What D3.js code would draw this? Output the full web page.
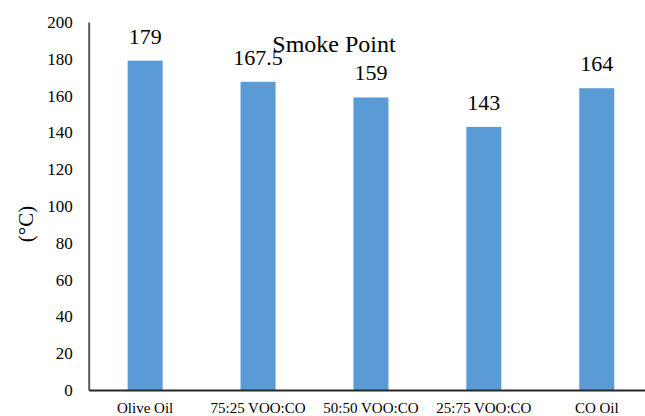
<!DOCTYPE html>
<html>
<head>
<meta charset="utf-8">
<script src="https://cdn.jsdelivr.net/npm/d3@7"></script>
<style>
  html, body { margin: 0; padding: 0; background: #fff; }
  svg text { font-family: "Liberation Serif", "DejaVu Serif", serif; }
</style>
</head>
<body>
<svg id="chart" width="645" height="416"></svg>
<script>
// Smoke point of olive oil, corn oil and their blends
const categories = ["Olive Oil", "75:25 VOO:CO", "50:50 VOO:CO", "25:75 VOO:CO", "CO Oil"];
const values = [179, 167.5, 159, 143, 164];
const yTicks = [0, 20, 40, 60, 80, 100, 120, 140, 160, 180, 200];

const SERIF = "'Liberation Serif', serif";
const svg = d3.select("#chart");
const x0 = 88.7, plotTop = 22, plotBottom = 390;

const y = d3.scaleLinear().domain([0, 200]).range([plotBottom, plotTop]);
const x = d3.scaleBand().domain(categories).range([x0, x0 + 5 * 112.9]).padding(0);
const barW = x.bandwidth() * 0.31;

// bars
svg.append("g").selectAll("rect").data(values).join("rect")
  .attr("x", (d, i) => x(categories[i]) + x.bandwidth() / 2 - barW / 2)
  .attr("y", d => y(d))
  .attr("width", barW)
  .attr("height", d => y(0) - y(d))
  .attr("fill", "#5B9BD5");

// value labels
svg.append("g").selectAll("text").data(values).join("text")
  .attr("x", (d, i) => x(categories[i]) + x.bandwidth() / 2)
  .attr("y", d => y(d) - 17)
  .attr("text-anchor", "middle")
  .attr("font-family", SERIF)
  .attr("font-size", 22)
  .attr("fill", "#000")
  .text(d => d);

// y axis
const yAxis = d3.axisLeft(y).tickValues(yTicks).tickSize(0).tickPadding(16);
const gy = svg.append("g").attr("transform", `translate(${x0},0)`).call(yAxis)
  .attr("font-family", SERIF);
gy.select(".domain").attr("stroke", "#595959").attr("stroke-width", 2);
gy.selectAll("text").attr("font-size", 17).attr("fill", "#000");

// x axis
const xAxis = d3.axisBottom(x).tickSize(0).tickPadding(12);
const gx = svg.append("g").attr("transform", `translate(0,${plotBottom})`).call(xAxis)
  .attr("font-family", SERIF);
gx.select(".domain").attr("stroke", "#262626").attr("stroke-width", 2);
gx.selectAll("text").attr("font-size", 15).attr("fill", "#000");

// title
svg.append("text")
  .attr("x", 334).attr("y", 51.5)
  .attr("text-anchor", "middle")
  .attr("font-family", SERIF)
  .attr("font-size", 24)
  .attr("fill", "#000")
  .text("Smoke Point");

// y axis label
svg.append("text")
  .attr("transform", "translate(33,224) rotate(-90)")
  .attr("text-anchor", "middle")
  .attr("font-family", SERIF)
  .attr("font-size", 21)
  .attr("fill", "#000")
  .text("(°C)");
</script>
</body>
</html>
